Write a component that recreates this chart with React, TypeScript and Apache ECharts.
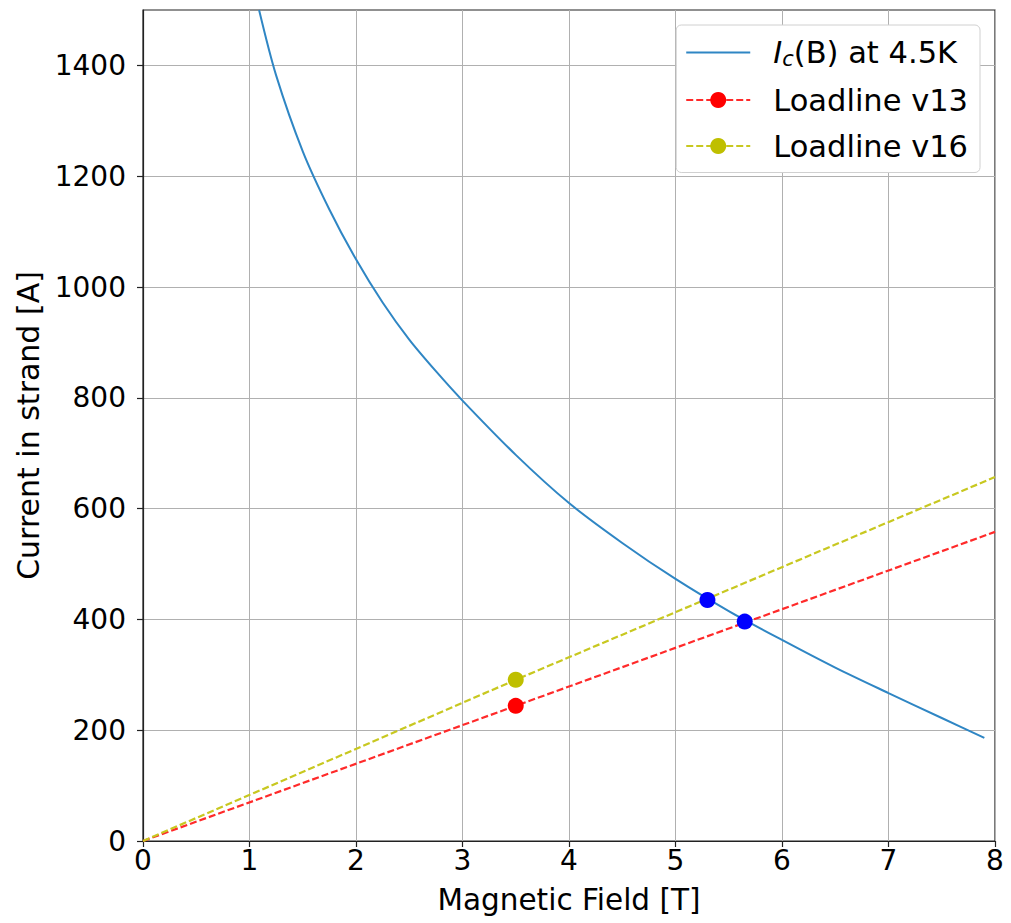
import React, { useEffect, useRef } from "react";
import * as echarts from "echarts";

const icB = [1.09, 1.25, 1.5, 1.75, 2, 2.25, 2.5, 2.75, 3, 3.5, 4, 4.5, 5, 5.5, 6, 6.5, 7, 7.5, 7.9];
const icI = [1500, 1382, 1245, 1140, 1050, 972, 905, 848, 795, 697, 610, 538, 473, 415, 363, 313, 267, 222, 186];

const loadB = [0, 3.5, 8];
const load13 = [0, 244, 558];
const load16 = [0, 291, 657];

const crossB = [5.3, 5.65];
const crossI = [435, 396];

const xTicks = [0, 1, 2, 3, 4, 5, 6, 7, 8];
const yTicks = [0, 200, 400, 600, 800, 1000, 1200, 1400];

const FONT = "DejaVu Sans";

export default function App() {
  const ref = useRef<HTMLDivElement>(null);
  useEffect(() => {
    const chart = echarts.init(ref.current!, null, { renderer: "svg" });
    const loadData = (ys: number[]) =>
      loadB.map((b, i) => ({
        value: [b, ys[i]],
        symbol: i === 1 ? "circle" : "none",
      }));
    chart.setOption({
      animation: false,
      textStyle: { fontFamily: FONT },
      grid: {
        left: 143,
        right: 16,
        top: 10,
        bottom: 82,
        show: true,
        borderColor: "#222",
        borderWidth: 1.2,
        backgroundColor: "transparent",
      },
      xAxis: {
        type: "value",
        min: 0,
        max: 8,
        interval: 1,
        name: "Magnetic Field [T]",
        nameLocation: "middle",
        nameGap: 44,
        nameTextStyle: { fontSize: 29.5, color: "#000", fontFamily: FONT },
        axisLine: { show: true, onZero: false, lineStyle: { color: "#222", width: 1.2 } },
        axisTick: { show: true, length: 6, lineStyle: { color: "#222", width: 1.2 } },
        axisLabel: {
          fontSize: 28,
          color: "#000",
          margin: 5,
          fontFamily: FONT,
          customValues: xTicks,
          formatter: (v: number) => String(v),
        },
        splitLine: { show: true, lineStyle: { color: "#b0b0b0", width: 1 } },
      },
      yAxis: {
        type: "value",
        min: 0,
        max: 1500,
        interval: 100,
        name: "Current in strand [A]",
        nameLocation: "middle",
        nameGap: 94,
        nameTextStyle: { fontSize: 30, color: "#000", fontFamily: FONT },
        axisLine: { show: true, onZero: false, lineStyle: { color: "#222", width: 1.2 } },
        axisTick: { show: true, length: 6, lineStyle: { color: "#222", width: 1.2 }, customValues: yTicks },
        axisLabel: {
          fontSize: 28,
          color: "#000",
          margin: 17,
          fontFamily: FONT,
          customValues: yTicks,
          formatter: (v: number) => String(v),
        },
        splitLine: {
          show: true,
          lineStyle: { color: "#b0b0b0", width: 1 },
          interval: (i: number) => i % 2 === 0,
        },
      },
      legend: {
        orient: "vertical",
        top: 25,
        right: 31,
        data: [
          { name: "Ic", itemStyle: { opacity: 0 } },
          { name: "Loadline v13" },
          { name: "Loadline v16" },
        ],
        itemWidth: 64,
        itemHeight: 20,
        itemGap: 15,
        backgroundColor: "#fff",
        borderColor: "#d0d0d0",
        borderWidth: 1,
        borderRadius: 5,
        padding: [12, 12, 11, 9],
        formatter: (n: string) => (n === "Ic" ? "{i|I}{s|c}(B) at 4.5K" : n),
        textStyle: {
          fontSize: 30.5,
          color: "#000",
          fontFamily: FONT,
          padding: [0, 0, 0, 18],
          rich: {
            i: { fontSize: 30.5, fontStyle: "italic", fontFamily: FONT, color: "#000" },
            s: { fontSize: 21, fontStyle: "italic", fontFamily: FONT, color: "#000", verticalAlign: "bottom", padding: [13, 0, 0, 0] },
          },
        },
      },
      series: [
        {
          name: "Ic",
          type: "line",
          smooth: 0.3,
          symbol: "none",
          data: icB.map((b, i) => [b, icI[i]]),
          lineStyle: { color: "#2f86c4", width: 2 },
          itemStyle: { color: "#2f86c4" },
          clip: true,
        },
        {
          name: "Loadline v13",
          type: "line",
          symbol: "circle",
          symbolSize: 16,
          data: loadData(load13),
          lineStyle: { color: "#ff2a2a", width: 2.2, type: [7, 3] },
          itemStyle: { color: "#ff0000" },
        },
        {
          name: "Loadline v16",
          type: "line",
          symbol: "circle",
          symbolSize: 16,
          data: loadData(load16),
          lineStyle: { color: "#c8c820", width: 2.2, type: [7, 3] },
          itemStyle: { color: "#bfbf00" },
        },
        {
          name: "crossings",
          type: "scatter",
          symbol: "circle",
          symbolSize: 16,
          data: crossB.map((b, i) => [b, crossI[i]]),
          itemStyle: { color: "#0000ff", opacity: 1 },
          z: 5,
        },
      ],
    });
    return () => chart.dispose();
  }, []);
  return (
    <div
      ref={ref}
      style={{ position: "absolute", left: 0, top: 0, width: 1011, height: 923, background: "#fff" }}
    />
  );
}
